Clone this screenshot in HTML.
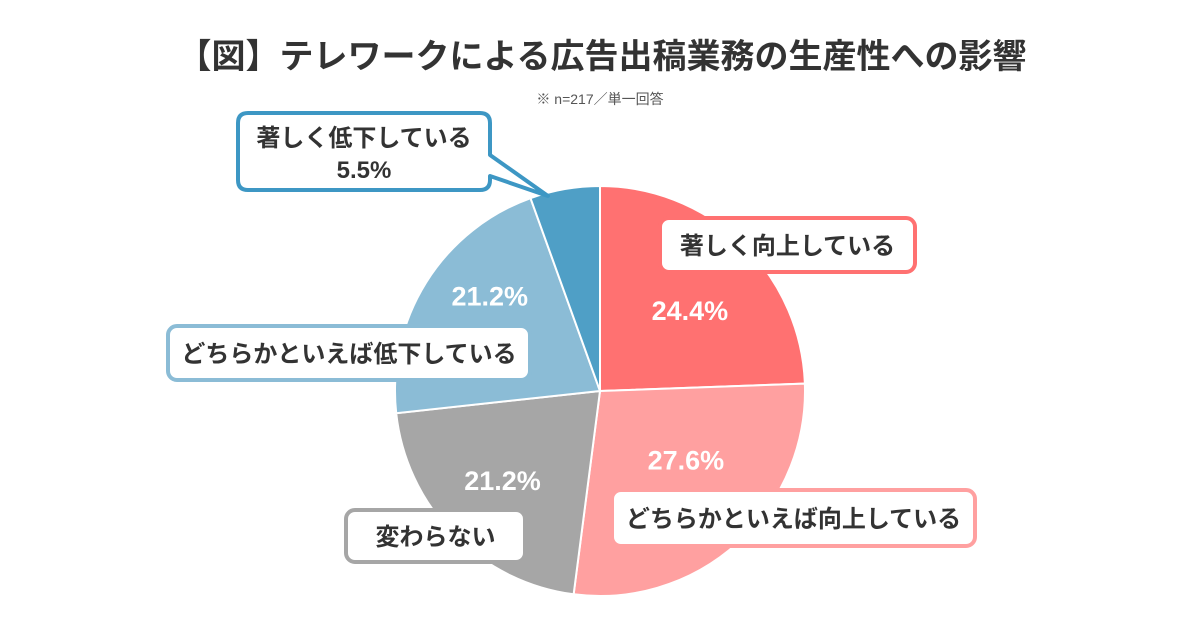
<!DOCTYPE html>
<html><head><meta charset="utf-8">
<style>
body{margin:0;background:#fff;}
svg text{font-family:"Liberation Sans","Noto Sans CJK JP",sans-serif;font-weight:bold;}
</style></head>
<body>
<svg width="1200" height="630" viewBox="0 0 1200 630">
<text x="602" y="68" text-anchor="middle" font-size="34" fill="#333">【図】テレワークによる広告出稿業務の生産性への影響</text>
<text x="600" y="104" text-anchor="middle" font-size="14" fill="#555" style="font-weight:normal">※ n=217／単一回答</text>
<g id="slices"></g>
<g id="labels"></g>
</svg>
<script>
const categories=["著しく向上している","どちらかといえば向上している","変わらない","どちらかといえば低下している","著しく低下している"];
const values=[24.4,27.6,21.2,21.2,5.5];
const colors=["#ff7171","#ffa0a0","#a6a6a6","#8bbcd6","#4f9fc6"];
const labelR=[121,110,132,146];
const labelOff=[4,-9,2,9];
const cx=600,cy=391,r=205;
const NS="http://www.w3.org/2000/svg";
const total=values.reduce((a,b)=>a+b,0);
const g=document.getElementById('slices');
let a0=0;
const mids=[];
values.forEach((v,i)=>{
  const a1=a0+v/total*2*Math.PI;
  const p=(a)=>[cx+r*Math.sin(a),cy-r*Math.cos(a)];
  const s=p(a0),e=p(a1);
  const large=(a1-a0)>Math.PI?1:0;
  const path=document.createElementNS(NS,'path');
  path.setAttribute('d',`M${cx},${cy}L${s[0]},${s[1]}A${r},${r} 0 ${large} 1 ${e[0]},${e[1]}Z`);
  path.setAttribute('fill',colors[i]);
  path.setAttribute('stroke','#fff');
  path.setAttribute('stroke-width','2');
  
  
  g.appendChild(path);
  mids.push((a0+a1)/2);
  a0=a1;
});
const lg=document.getElementById('labels');
// callout boxes
const boxes=[
 {x:660,y:218,w:255,h:54,c:"#ff7171",i:0},
 {x:612,y:490,w:363,h:56,c:"#ffa0a0",i:1},
 {x:346,y:510,w:179,h:52,c:"#a6a6a6",i:2},
 {x:168,y:326,w:362,h:54,c:"#8bbcd6",i:3}
];
boxes.forEach(b=>{
  const rc=document.createElementNS(NS,'rect');
  rc.setAttribute('x',b.x);rc.setAttribute('y',b.y);rc.setAttribute('width',b.w);rc.setAttribute('height',b.h);
  rc.setAttribute('rx',9);rc.setAttribute('fill','#fff');rc.setAttribute('stroke',b.c);rc.setAttribute('stroke-width',4);
  
  
  lg.appendChild(rc);
  const t=document.createElementNS(NS,'text');
  t.setAttribute('x',b.x+b.w/2);t.setAttribute('y',b.y+b.h/2+9);
  t.setAttribute('text-anchor','middle');t.setAttribute('font-size','24');t.setAttribute('fill','#333');
  t.textContent=categories[b.i];
  
  
  lg.appendChild(t);
});
// percentage labels inside slices
[0,1,2,3].forEach(i=>{
  const m=mids[i]+labelOff[i]*Math.PI/180;const rr=labelR[i];
  const t=document.createElementNS(NS,'text');
  t.setAttribute('x',cx+rr*Math.sin(m));
  t.setAttribute('y',cy-rr*Math.cos(m)+10);
  t.setAttribute('text-anchor','middle');
  t.setAttribute('font-size','27');
  t.setAttribute('fill','#fff');
  t.textContent=values[i].toFixed(1)+'%';
  
  
  lg.appendChild(t);
});
// top-left callout with tail
const call=document.createElementNS(NS,'path');
call.setAttribute('d','M248,113 H480 Q490,113 490,123 V155 L548,196 L490,176 V180 Q490,190 480,190 H248 Q238,190 238,180 V123 Q238,113 248,113 Z');
call.setAttribute('fill','#fff');call.setAttribute('stroke','#3d97c4');call.setAttribute('stroke-width','4');call.setAttribute('stroke-linejoin','round');


lg.appendChild(call);
const t1=document.createElementNS(NS,'text');
t1.setAttribute('x',364);t1.setAttribute('y',146);t1.setAttribute('text-anchor','middle');t1.setAttribute('font-size','24');t1.setAttribute('fill','#333');
t1.textContent=categories[4];


lg.appendChild(t1);
const t2=document.createElementNS(NS,'text');
t2.setAttribute('x',364);t2.setAttribute('y',178);t2.setAttribute('text-anchor','middle');t2.setAttribute('font-size','24');t2.setAttribute('fill','#333');
t2.textContent=values[4].toFixed(1)+'%';


lg.appendChild(t2);
</script>
</body></html>
